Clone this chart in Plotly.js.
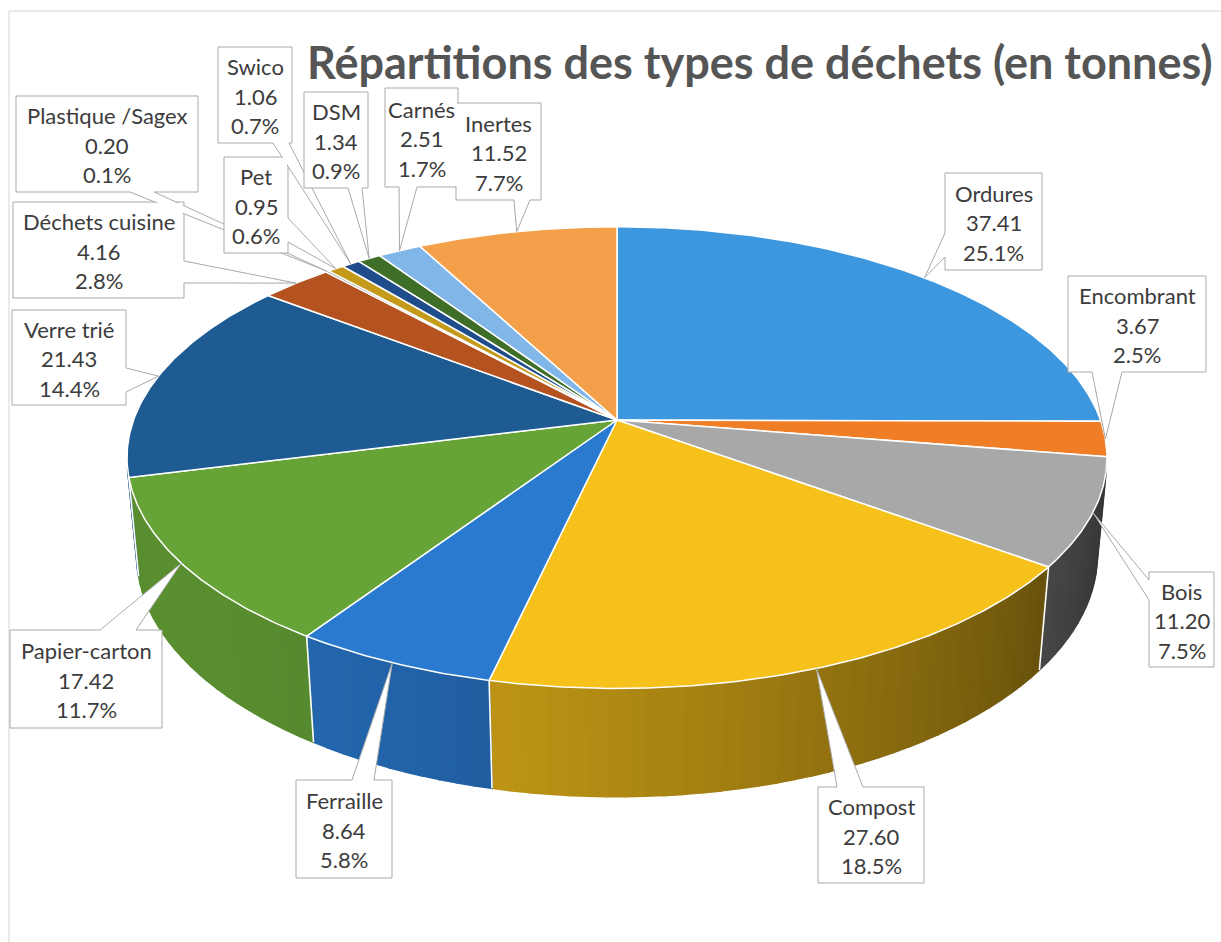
<!DOCTYPE html>
<html><head><meta charset="utf-8">
<script src="https://cdn.plot.ly/plotly-3.0.1.min.js"></script>
<style>html,body{margin:0;padding:0;background:#fff}#chart{width:1221px;height:942px}</style>
</head><body><div id="chart"></div>
<script>
// ---------- data ----------
const categories = ['Ordures','Encombrant','Bois','Compost','Ferraille','Papier-carton','Verre trié','Déchets cuisine','Plastique /Sagex','Pet','Swico','DSM','Carnés','Inertes'];
const values = [37.41,3.67,11.20,27.60,8.64,17.42,21.43,4.16,0.20,0.95,1.06,1.34,2.51,11.52];
const sliceColors = ['#3C97DF','#F07E26','#A8A8A8','#F6C11B','#2A7AD0','#67A437','#1E5B93','#B45220','#8C8C8C','#C49A1A','#1F4C8A','#3F6E28','#80B7E8','#F4A04A'];
const titleText = 'Répartitions des types de déchets (en tonnes)';

// ---------- layout (pixel space) ----------
const W = 1221, H = 942;
const CX = 617, CY = 420, FOCAL = 2630, DIST = 5.44, TILT = 27.7*Math.PI/180, THICK = 0.229;
const cT = Math.cos(TILT), sT = Math.sin(TILT);
// callout boxes [x0,y0,x1,y1] and tails [side, centre along edge, half width]
const calloutBoxes = [
  [945,173,1042,270],[1068,276,1206,372],[1149,572,1214,667],[818,787,924,883],
  [296,780,392,878],[10,630,162,728],[12,310,126,405],[13,202,184,298],
  [16,96,198,192],[224,157,288,253],[218,47,292,143],[304,92,368,188],
  [385,88,458,187],[456,103,541,200]
];
const calloutTails = [
  ['left',245,12],['bottom',1107,15],['left',590,10],['top',850,13],
  ['top',363,11],['top',118,18],['right',380,12],['right',272,11],
  ['bottom',142,12],['right',230,12],['bottom',281,8],['bottom',355,7],
  ['bottom',408,9],['bottom',522,8]
];
const lineGap = 29.5;

function proj(t, r, z){
  const X = r*Math.sin(t), Y = r*Math.cos(t);
  const w = DIST + Y*cT - z*sT;
  return [CX + FOCAL*X/w, CY - FOCAL*(Y*sT + z*cT)/w];
}
function shade(hex, f){
  const n = parseInt(hex.slice(1),16);
  const r = Math.round(((n>>16)&255)*f), g = Math.round(((n>>8)&255)*f), b = Math.round((n&255)*f);
  return 'rgb('+r+','+g+','+b+')';
}
function lightFactor(t){ return 0.55 + 0.32*Math.cos(t - 240*Math.PI/180); }

const total = values.reduce((a,b)=>a+b,0);
const starts = [], ends = [];
let acc = 0;
values.forEach(v=>{ starts.push(acc/total*2*Math.PI); acc += v; ends.push(acc/total*2*Math.PI); });

const traces = [];
const vis = Math.acos(-1/(DIST*cT));
const visEnd = 2*Math.PI - vis;
const SEG = 2*Math.PI/180;

// side walls
values.forEach((v,i)=>{
  const a = Math.max(starts[i], vis), b = Math.min(ends[i], visEnd);
  if (a >= b) return;
  const n = Math.max(1, Math.ceil((b-a)/SEG));
  for (let k=0;k<n;k++){
    const ta = a + (b-a)*k/n, tb = a + (b-a)*(k+1)/n;
    const xs=[], ys=[];
    for (let j=0;j<=4;j++){ const p = proj(ta+(tb-ta)*j/4,1,0); xs.push(p[0]); ys.push(p[1]); }
    for (let j=4;j>=0;j--){ const p = proj(ta+(tb-ta)*j/4,1,-THICK); xs.push(p[0]); ys.push(p[1]); }
    xs.push(xs[0]); ys.push(ys[0]);
    const col = shade(sliceColors[i], lightFactor((ta+tb)/2));
    traces.push({type:'scatter', mode:'lines', x:xs, y:ys, fill:'toself', fillcolor:col,
      line:{color:col, width:1.6}, hoverinfo:'skip', showlegend:false});
  }
});
// wall boundaries
starts.forEach(t=>{
  if (t > vis && t < visEnd){
    const p = proj(t,1,0), q = proj(t,1,-THICK);
    traces.push({type:'scatter', mode:'lines', x:[p[0],q[0]], y:[p[1],q[1]], line:{color:'#ffffff', width:1.6}, hoverinfo:'skip', showlegend:false});
  }
});
// top faces
values.forEach((v,i)=>{
  const xs=[CX], ys=[CY];
  const n = Math.max(2, Math.ceil((ends[i]-starts[i])/(0.5*Math.PI/180)));
  for (let j=0;j<=n;j++){ const p = proj(starts[i]+(ends[i]-starts[i])*j/n,1,0); xs.push(p[0]); ys.push(p[1]); }
  xs.push(CX); ys.push(CY);
  traces.push({type:'scatter', mode:'lines', x:xs, y:ys, fill:'toself', fillcolor:sliceColors[i],
    line:{color:'#ffffff', width:1.5}, name:categories[i],
    text:categories[i]+': '+v.toFixed(2), hoverinfo:'text', hoveron:'fills', showlegend:false});
});

// callouts
const shapes = [{type:'rect', xref:'x', yref:'y', x0:9, y0:11, x1:1235, y1:960, line:{color:'#d6d6d6', width:1}, fillcolor:'rgba(0,0,0,0)', layer:'below'}];
const annotations = [];
values.forEach((v,i)=>{
  const [x0,y0,x1,y1] = calloutBoxes[i];
  const [side,c,hw] = calloutTails[i];
  const mid = (starts[i]+ends[i])/2;
  const tip = proj(mid,1,0);
  const pts = [];
  pts.push([x0,y0]);
  if (side==='top'){ pts.push([c-hw,y0],tip,[c+hw,y0]); }
  pts.push([x1,y0]);
  if (side==='right'){ pts.push([x1,c-hw],tip,[x1,c+hw]); }
  pts.push([x1,y1]);
  if (side==='bottom'){ pts.push([c+hw,y1],tip,[c-hw,y1]); }
  pts.push([x0,y1]);
  if (side==='left'){ pts.push([x0,c+hw],tip,[x0,c-hw]); }
  const path = 'M'+pts.map(p=>p[0].toFixed(1)+','+p[1].toFixed(1)).join('L')+'Z';
  shapes.push({type:'path', xref:'x', yref:'y', path:path, fillcolor:'#ffffff', line:{color:'#a9a9a9', width:1}, layer:'above'});
  const cx = (x0+x1)/2, cy = (y0+y1)/2 + 1;
  annotations.push({xref:'x', yref:'y', x:cx, y:(y0+y1)/2, text:' ', showarrow:false, xanchor:'center', yanchor:'middle',
    width:x1-x0-2, height:y1-y0-2, bgcolor:'#ffffff', borderwidth:0, borderpad:0});
  const lines = [categories[i], v.toFixed(2), (v/total*100).toFixed(1)+'%'];
  lines.forEach((s,k)=>{
    annotations.push({xref:'x', yref:'y', x:cx, y:cy+(k-1)*lineGap, text:s, showarrow:false,
      xanchor:'center', yanchor:'middle', font:{family:'Lato, "Open Sans", sans-serif', size:22, color:'#3c3c3c'}});
  });
});
annotations.push({xref:'x', yref:'y', x:760, y:62, text:'<b>'+titleText+'</b>', showarrow:false,
  xanchor:'center', yanchor:'middle', font:{family:'Lato, "Open Sans", sans-serif', size:45, color:'#555555'}});

const layout = {
  width:W, height:H, margin:{l:0,r:0,t:0,b:0}, paper_bgcolor:'#ffffff', plot_bgcolor:'#ffffff',
  xaxis:{range:[0,W], visible:false, fixedrange:true},
  yaxis:{range:[H,0], visible:false, fixedrange:true},
  showlegend:false, shapes:shapes, annotations:annotations, hovermode:'closest'
};
Plotly.newPlot('chart', traces, layout, {displayModeBar:false, responsive:false});
</script></body></html>
